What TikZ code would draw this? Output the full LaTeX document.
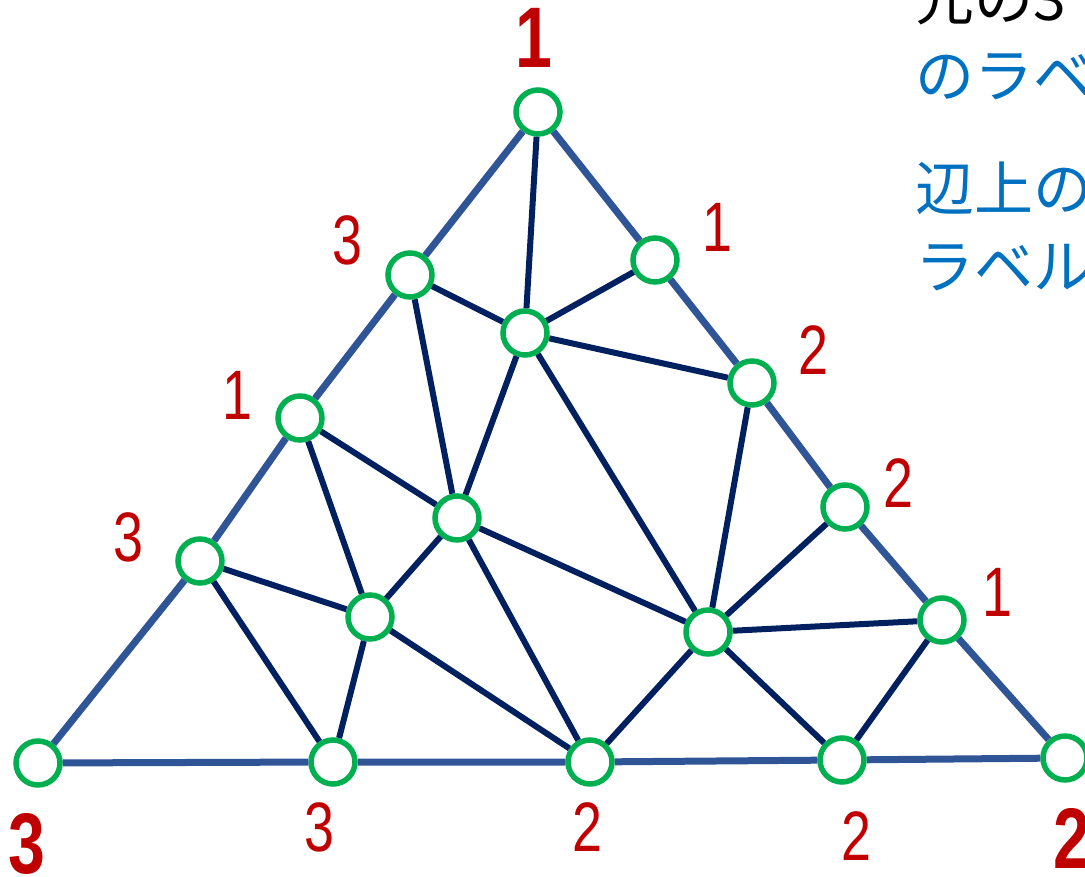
\documentclass[tikz,border=0pt]{standalone}
\usepackage{fontspec}
\setmainfont{Noto Sans CJK JP}
\newfontfamily\numfont[FakeStretch=0.77]{Liberation Sans}
\definecolor{vgreen}{HTML}{00B050}
\definecolor{outblue}{HTML}{2F5597}
\definecolor{innavy}{HTML}{002060}
\definecolor{labred}{HTML}{C00000}
\definecolor{txtblue}{HTML}{0070C0}

\begin{document}
\begin{tikzpicture}[x=1pt,y=-1pt,
  vtx/.style={circle,draw=vgreen,fill=white,line width=5.5pt,minimum size=44pt,inner sep=0pt},
  outer/.style={draw=outblue,line width=7pt},
  inner/.style={draw=innavy,line width=6pt},
  lab/.style={text=labred,inner sep=0pt,font=\numfont\fontsize{70}{70}\selectfont},
  corner/.style={text=labred,inner sep=0pt,font=\numfont\bfseries\fontsize{86}{86}\selectfont},
  note/.style={anchor=west,inner sep=0pt,font=\fontsize{59}{59}\selectfont}]
\useasboundingbox (0,0) rectangle (1085,877);
\clip (0,0) rectangle (1085,877);

% vertices
\node[vtx] (t)  at (538,112) {};
\node[vtx] (bl) at (38,763) {};
\node[vtx] (br) at (1065,758) {};
\node[vtx] (a1) at (410,275) {};
\node[vtx] (a2) at (300,418) {};
\node[vtx] (a3) at (200,561) {};
\node[vtx] (b1) at (655,260) {};
\node[vtx] (b2) at (752,383) {};
\node[vtx] (b3) at (845,507) {};
\node[vtx] (b4) at (942,620) {};
\node[vtx] (c1) at (333,762) {};
\node[vtx] (c2) at (590,762) {};
\node[vtx] (c3) at (842,760) {};
\node[vtx] (m1) at (525,333) {};
\node[vtx] (m2) at (457,518) {};
\node[vtx] (m3) at (370,617) {};
\node[vtx] (m4) at (708,632) {};

% outer triangle
\draw[outer] (t) -- (a1) -- (a2) -- (a3) -- (bl);
\draw[outer] (t) -- (b1) -- (b2) -- (b3) -- (b4) -- (br);
\draw[outer] (bl) -- (c1) -- (c2) -- (c3) -- (br);

% subdivision
\foreach \p/\q in {t/m1,a1/m1,b1/m1,m1/b2,a1/m2,m1/m2,m1/m4,b2/m4,
    a2/m2,a2/m3,m2/m3,m2/m4,m2/c2,a3/m3,a3/c1,m3/c1,m3/c2,
    b3/m4,m4/b4,m4/c2,m4/c3,b4/c3}
  \draw[inner] (\p) -- (\q);

% labels
\node[corner] (lt)  at (534,38) {1};
\node[corner] (lbl) at (27,844) {3};
\node[corner] (lbr) at (1072,838) {2};
\node[lab] (la1) at (347,240) {3};
\node[lab] (la2) at (237,395) {1};
\node[lab] (la3) at (128,537) {3};
\node[lab] (lb1) at (717,227) {1};
\node[lab] (lb2) at (813,350) {2};
\node[lab] (lb3) at (898,483) {2};
\node[lab] (lb4) at (997,592) {1};
\node[lab] (lc1) at (319,827) {3};
\node[lab] (lc2) at (587,827) {2};
\node[lab] (lc3) at (856,836) {2};

% note text
\node[note] (n1) at (915,0) {元の3};
\node[note,text=txtblue] (n2) at (915,77) {のラベ};
\node[note,text=txtblue] (n3) at (915,188) {辺上の};
\node[note,text=txtblue] (n4) at (915,268) {ラベル};
\end{tikzpicture}
\end{document}
